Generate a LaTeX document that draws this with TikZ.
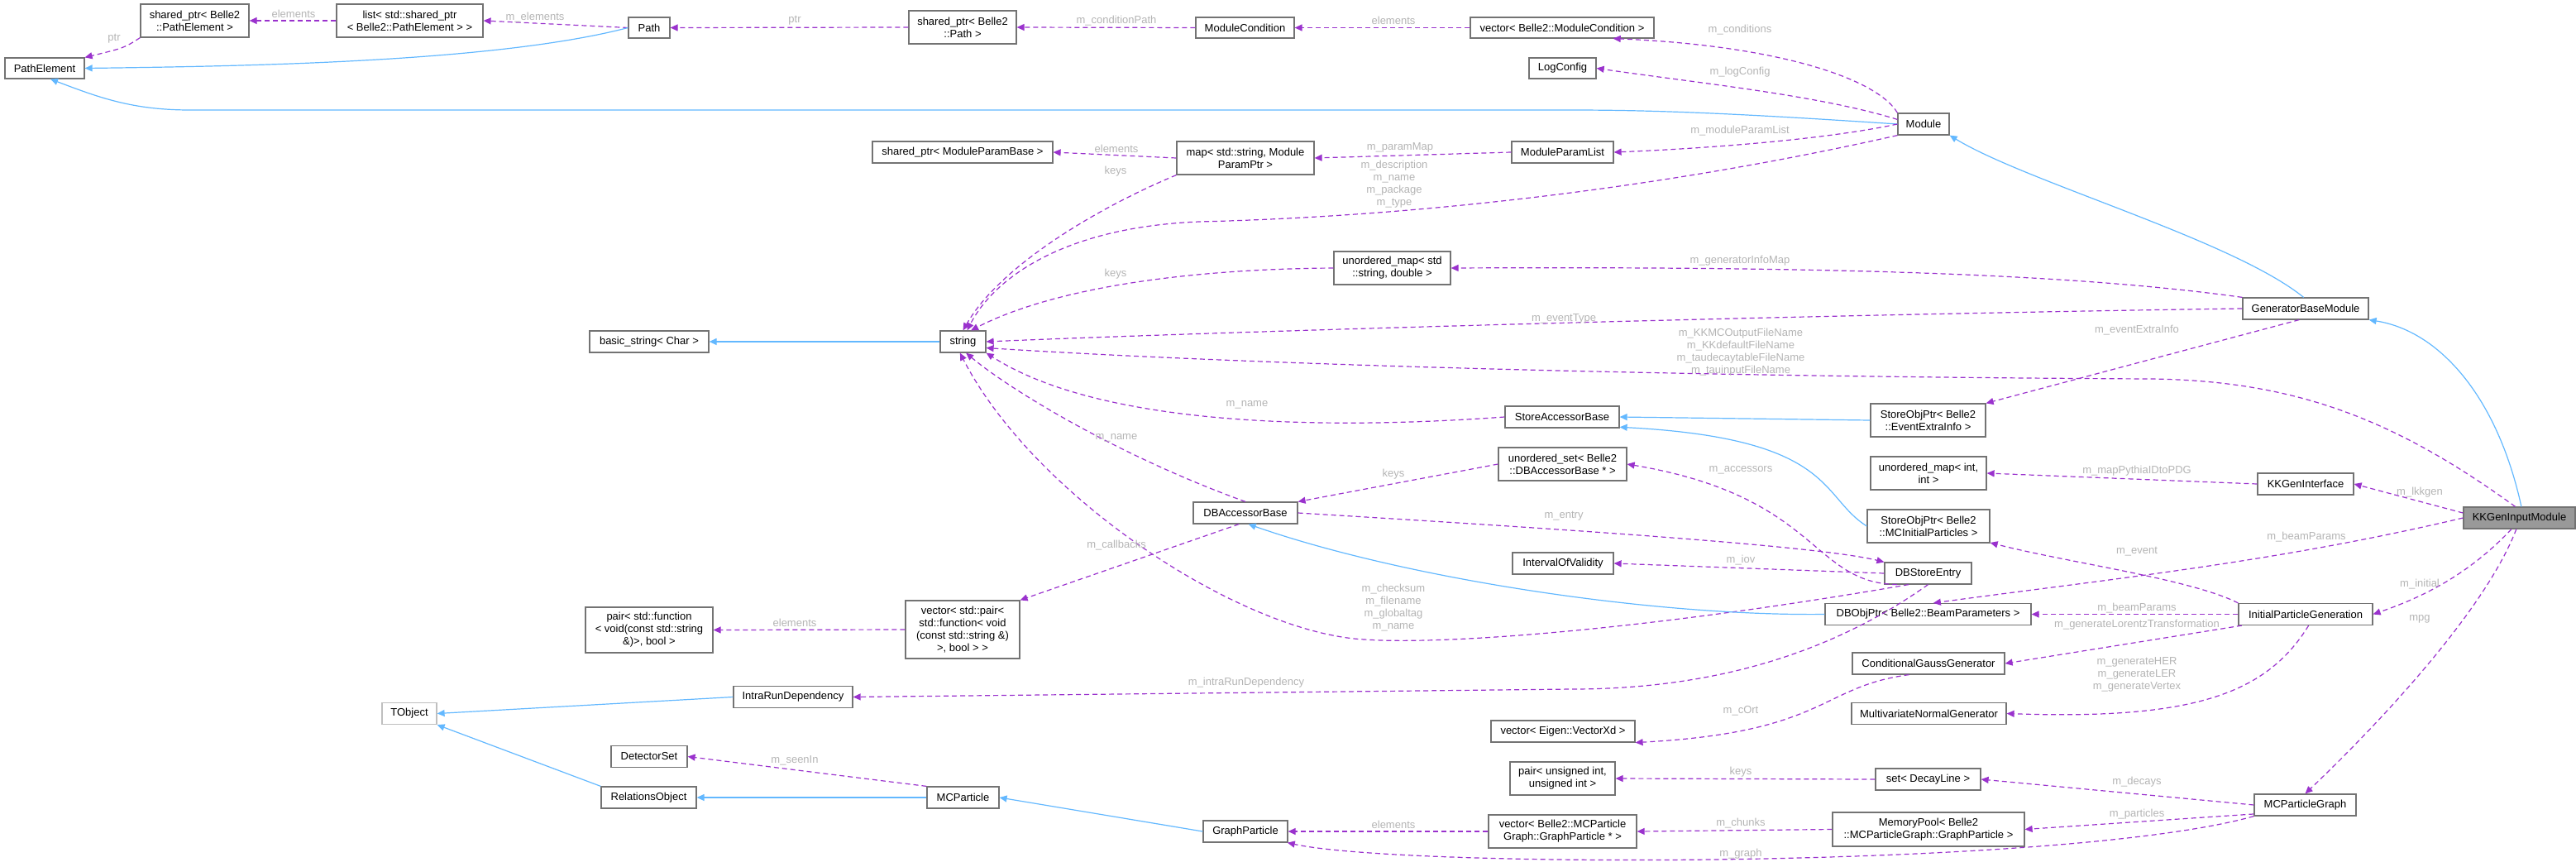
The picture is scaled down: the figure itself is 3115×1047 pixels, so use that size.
\documentclass[tikz,border=0pt]{standalone}
\usepackage{fontspec}
\setmainfont{Liberation Sans}
\usetikzlibrary{arrows.meta}
\definecolor{dep}{HTML}{9A32CD}
\definecolor{inh}{HTML}{63B8FF}
\definecolor{lbl}{HTML}{B4B4B4}
\begin{document}
\begin{tikzpicture}[x=1pt,y=-1pt,
 box/.style={draw=black!55,line width=1.2pt,fill=white,inner sep=0pt,align=center,font=\fontsize{13}{15}\selectfont},
 lb/.style={text=lbl,align=center,font=\fontsize{13}{15}\selectfont,inner sep=0pt},
 dep/.style={draw=dep,line width=1.2pt,dash pattern=on 6pt off 4pt,-{Triangle[length=9pt,width=8pt,fill=dep]}},
 inh/.style={draw=inh,line width=1.2pt,-{Triangle[length=9pt,width=8pt,fill=inh]}}]
\useasboundingbox (0,0) rectangle (3115,1047);
% nodes
\node[box,minimum width=96,minimum height=25] (PE) at (54,82.5) {PathElement};
\node[box,minimum width=131,minimum height=40] (spPE) at (235.5,25) {shared\_ptr< Belle2\\::PathElement >};
\node[box,minimum width=177,minimum height=40] (list) at (495.5,25) {list< std::shared\_ptr\\< Belle2::PathElement > >};
\node[box,minimum width=50,minimum height=25] (Path) at (785,33.5) {Path};
\node[box,minimum width=130,minimum height=40] (spPath) at (1164,33) {shared\_ptr< Belle2\\::Path >};
\node[box,minimum width=119,minimum height=25] (MC) at (1505.5,33.5) {ModuleCondition};
\node[box,minimum width=222,minimum height=25] (vecMC) at (1889,33.5) {vector< Belle2::ModuleCondition >};
\node[box,minimum width=81,minimum height=25] (LC) at (1889.5,82.5) {LogConfig};
\node[box,minimum width=218,minimum height=26] (spMPB) at (1164,184) {shared\_ptr< ModuleParamBase >};
\node[box,minimum width=166,minimum height=40] (map) at (1506,191) {map< std::string, Module\\ParamPtr >};
\node[box,minimum width=123,minimum height=26] (MPL) at (1889.5,184) {ModuleParamList};
\node[box,minimum width=141,minimum height=40] (umap) at (1683.5,324) {unordered\_map< std\\::string, double >};
\node[box,minimum width=62,minimum height=26] (Module) at (2326,150) {Module};
\node[box,minimum width=144,minimum height=26] (bs) at (785,413) {basic\_string< Char >};
\node[box,minimum width=55,minimum height=26] (str) at (1164.5,413) {string};
\node[box,minimum width=138,minimum height=26] (SAB) at (1889,504) {StoreAccessorBase};
\node[box,minimum width=155,minimum height=40] (uset) at (1889.5,561) {unordered\_set< Belle2\\::DBAccessorBase * >};
\node[box,minimum width=126,minimum height=26] (DBAB) at (1506,620) {DBAccessorBase};
\node[box,minimum width=122,minimum height=26] (IOV) at (1890,681) {IntervalOfValidity};
\node[box,minimum width=152,minimum height=26] (GBM) at (2788,373) {GeneratorBaseModule};
\node[box,minimum width=139,minimum height=40] (SOPE) at (2331.5,508) {StoreObjPtr< Belle2\\::EventExtraInfo >};
\node[box,minimum width=140,minimum height=40] (umi) at (2332,572) {unordered\_map< int,\\int >};
\node[box,minimum width=116,minimum height=26] (KKGI) at (2788,585) {KKGenInterface};
\node[box,minimum width=148,minimum height=40] (SOPM) at (2332,636) {StoreObjPtr< Belle2\\::MCInitialParticles >};
\node[box,minimum width=135,minimum height=26,fill=black!40] (KK) at (3046.5,626) {KKGenInputModule};
\node[box,minimum width=105,minimum height=26] (DBSE) at (2331.5,693) {DBStoreEntry};
\node[box,minimum width=154,minimum height=55] (pairfn) at (785,761.5) {pair< std::function\\< void(const std::string\\\&)>, bool >};
\node[box,minimum width=144,minimum height=26] (IRD) at (959,842.5) {IntraRunDependency};
\node[box,draw=black!25,minimum width=66,minimum height=26] (TO) at (495,862.5) {TObject};
\node[box,minimum width=92,minimum height=26] (DS) at (785,914.5) {DetectorSet};
\node[box,minimum width=115,minimum height=26] (RO) at (784.5,964) {RelationsObject};
\node[box,minimum width=138,minimum height=70] (vp) at (1164,761) {vector< std::pair<\\std::function< void\\(const std::string \&)\\>, bool > >};
\node[box,minimum width=87,minimum height=26] (MCP) at (1164.5,964) {MCParticle};
\node[box,minimum width=102,minimum height=26] (GP) at (1506,1005) {GraphParticle};
\node[box,minimum width=174,minimum height=26] (vE) at (1890,884) {vector< Eigen::VectorXd >};
\node[box,minimum width=127,minimum height=40] (pUI) at (1889.5,941) {pair< unsigned int,\\unsigned int >};
\node[box,minimum width=179,minimum height=40] (vGP) at (1889.5,1005) {vector< Belle2::MCParticle\\Graph::GraphParticle * >};
\node[box,minimum width=249,minimum height=26] (DBO) at (2331.5,742.5) {DBObjPtr< Belle2::BeamParameters >};
\node[box,minimum width=162,minimum height=26] (IPG) at (2788,742.5) {InitialParticleGeneration};
\node[box,minimum width=184,minimum height=26] (CGG) at (2332,802) {ConditionalGaussGenerator};
\node[box,minimum width=187,minimum height=26] (MNG) at (2332.5,862.5) {MultivariateNormalGenerator};
\node[box,minimum width=127,minimum height=26] (setDL) at (2331.5,942) {set< DecayLine >};
\node[box,minimum width=123,minimum height=26] (MCPG) at (2787.5,973) {MCParticleGraph};
\node[box,minimum width=232,minimum height=41] (MP) at (2332,1002.5) {MemoryPool< Belle2\\::MCParticleGraph::GraphParticle >};
% edges
\draw[dep] (spPE.south west) .. controls (150,58) .. (PE.north east);
\draw[dep] (list.west) -- (spPE.east);
\draw[dep] (Path.west) -- (list.east);
\draw[inh] (Path.west) .. controls (600,75) and (300,80) .. (PE.east);
\draw[dep] (spPath.west) -- (Path.east);
\draw[dep] (MC.west) -- (spPath.east);
\draw[dep] (vecMC.west) -- (MC.east);
\draw[dep] (Module.north west) .. controls (2270,95) and (2150,55) .. (vecMC.-12);
\draw[dep] (Module.170) .. controls (2200,115) and (2050,100) .. (LC.east);
\draw[inh] (Module.west) .. controls (2100,137) and (2000,133) .. (1900,133) -- (230,133) .. controls (160,133) and (120,118) .. (PE.-62);
\draw[dep] (Module.west) .. controls (2200,170) and (2050,180) .. (MPL.east);
\draw[dep] (Module.south west) .. controls (2000,230) and (1700,262) .. (1450,268) .. controls (1280,275) and (1200,340) .. (str.70);
\draw[dep] (MPL.west) -- (map.east);
\draw[dep] (map.west) -- (spMPB.east);
\draw[dep] (map.south west) .. controls (1330,250) and (1210,320) .. (str.north);
\draw[dep] (umap.west) .. controls (1450,325) and (1280,345) .. (str.55);
\draw[dep] (GBM.north west) .. controls (2500,330) and (2200,322) .. (umap.east);
\draw[inh] (GBM.100) .. controls (2700,290) and (2450,220) .. (Module.south east);
\draw[dep] (GBM.west) .. controls (2200,380) and (1500,400) .. (str.east);
\draw[dep] (GBM.-120) -- (SOPE.north east);
\draw[inh] (KK.80) .. controls (3020,480) and (2950,400) .. (GBM.south east);
\draw[dep] (KK.110) .. controls (2900,510) and (2780,460) .. (2600,458) .. controls (2000,455) and (1500,440) .. (str.-15);
\draw[inh] (str.west) -- (bs.east);
\draw[dep] (SAB.west) .. controls (1600,520) and (1330,515) .. (str.south east);
\draw[inh] (SOPE.west) -- (SAB.east);
\draw[inh] (SOPM.west) .. controls (2200,600) and (2220,530) .. (SAB.-10);
\draw[dep] (DBAB.north) .. controls (1350,550) and (1220,470) .. (str.-75);
\draw[dep] (uset.west) -- (DBAB.north east);
\draw[dep] (DBSE.-160) .. controls (2190,705) and (2200,600) .. (uset.east);
\draw[dep] (DBAB.east) .. controls (1900,640) and (2200,660) .. (DBSE.north west);
\draw[dep] (DBSE.west) -- (IOV.east);
\draw[dep] (DBSE.-150) .. controls (2000,760) and (1750,780) .. (1650,773) .. controls (1500,765) and (1250,600) .. (str.-105);
\draw[dep] (DBSE.south) .. controls (2200,800) and (2050,833) .. (1900,833) -- (IRD.east);
\draw[dep] (DBAB.-120) -- (vp.north east);
\draw[dep] (vp.west) -- (pairfn.east);
\draw[inh] (IRD.west) -- (TO.east);
\draw[inh] (RO.north west) -- (TO.south east);
\draw[inh] (MCP.west) -- (RO.east);
\draw[dep] (MCP.north west) -- (DS.east);
\draw[inh] (GP.west) -- (MCP.east);
\draw[dep] (vGP.west) -- (GP.east);
\draw[dep] (MCPG.south west) .. controls (2500,1050) and (1700,1050) .. (GP.-15);
\draw[dep] (MP.west) -- (vGP.east);
\draw[dep] (MCPG.-170) -- (MP.east);
\draw[dep] (MCPG.west) -- (setDL.east);
\draw[dep] (setDL.west) -- (pUI.east);
\draw[dep] (KK.-105) .. controls (3000,750) and (2850,900) .. (MCPG.north);
\draw[dep] (KK.-125) .. controls (2980,700) and (2920,725) .. (IPG.east);
\draw[dep] (KK.west) .. controls (2750,680) and (2550,700) .. (DBO.65);
\draw[dep] (KK.175) -- (KKGI.east);
\draw[dep] (KKGI.west) -- (umi.east);
\draw[dep] (IPG.north west) .. controls (2650,700) and (2500,680) .. (SOPM.-15);
\draw[dep] (IPG.west) -- (DBO.east);
\draw[dep] (IPG.-170) -- (CGG.east);
\draw[dep] (IPG.-75) .. controls (2740,840) and (2650,870) .. (MNG.east);
\draw[dep] (CGG.-150) .. controls (2200,830) and (2210,885) .. (vE.south east);
\draw[inh] (DBO.west) .. controls (2000,745) and (1700,700) .. (DBAB.-75);
% labels
\node[lb] at (138,47) {ptr};
\node[lb] at (355,17) {elements};
\node[lb] at (647,21) {m\_elements};
\node[lb] at (961,25) {ptr};
\node[lb] at (1350,25) {m\_conditionPath};
\node[lb] at (1685,25) {elements};
\node[lb] at (2104,36) {m\_conditions};
\node[lb] at (2104,87) {m\_logConfig};
\node[lb] at (2104,158) {m\_moduleParamList};
\node[lb] at (1350,180) {elements};
\node[lb] at (1693,178) {m\_paramMap};
\node[lb] at (1349,207) {keys};
\node[lb] at (1686,223) {m\_description\\m\_name\\m\_package\\m\_type};
\node[lb] at (1349,331) {keys};
\node[lb] at (2104,315) {m\_generatorInfoMap};
\node[lb] at (1891,385) {m\_eventType};
\node[lb] at (2105,426) {m\_KKMCOutputFileName\\m\_KKdefaultFileName\\m\_taudecaytableFileName\\m\_tauinputFileName};
\node[lb] at (2584,399) {m\_eventExtraInfo};
\node[lb] at (1508,489) {m\_name};
\node[lb] at (1350,529) {m\_name};
\node[lb] at (1685,573) {keys};
\node[lb] at (2105,568) {m\_accessors};
\node[lb] at (2584,569) {m\_mapPythiaIDtoPDG};
\node[lb] at (2926,595) {m\_lkkgen};
\node[lb] at (1891,624) {m\_entry};
\node[lb] at (2789,649) {m\_beamParams};
\node[lb] at (1350,659) {m\_callbacks};
\node[lb] at (2584,667) {m\_event};
\node[lb] at (2105,677) {m\_iov};
\node[lb] at (2926,706) {m\_initial};
\node[lb] at (1685,735) {m\_checksum\\m\_filename\\m\_globaltag\\m\_name};
\node[lb] at (2584,735) {m\_beamParams};
\node[lb] at (2926,748) {mpg};
\node[lb] at (961,753) {elements};
\node[lb] at (2584,755) {m\_generateLorentzTransformation};
\node[lb] at (2584,815) {m\_generateHER\\m\_generateLER\\m\_generateVertex};
\node[lb] at (1507,825) {m\_intraRunDependency};
\node[lb] at (2105,859) {m\_cOrt};
\node[lb] at (961,919) {m\_seenIn};
\node[lb] at (2105,933) {keys};
\node[lb] at (2584,945) {m\_decays};
\node[lb] at (2584,984) {m\_particles};
\node[lb] at (1685,997) {elements};
\node[lb] at (2105,995) {m\_chunks};
\node[lb] at (2105,1032) {m\_graph};
\end{tikzpicture}
\end{document}
